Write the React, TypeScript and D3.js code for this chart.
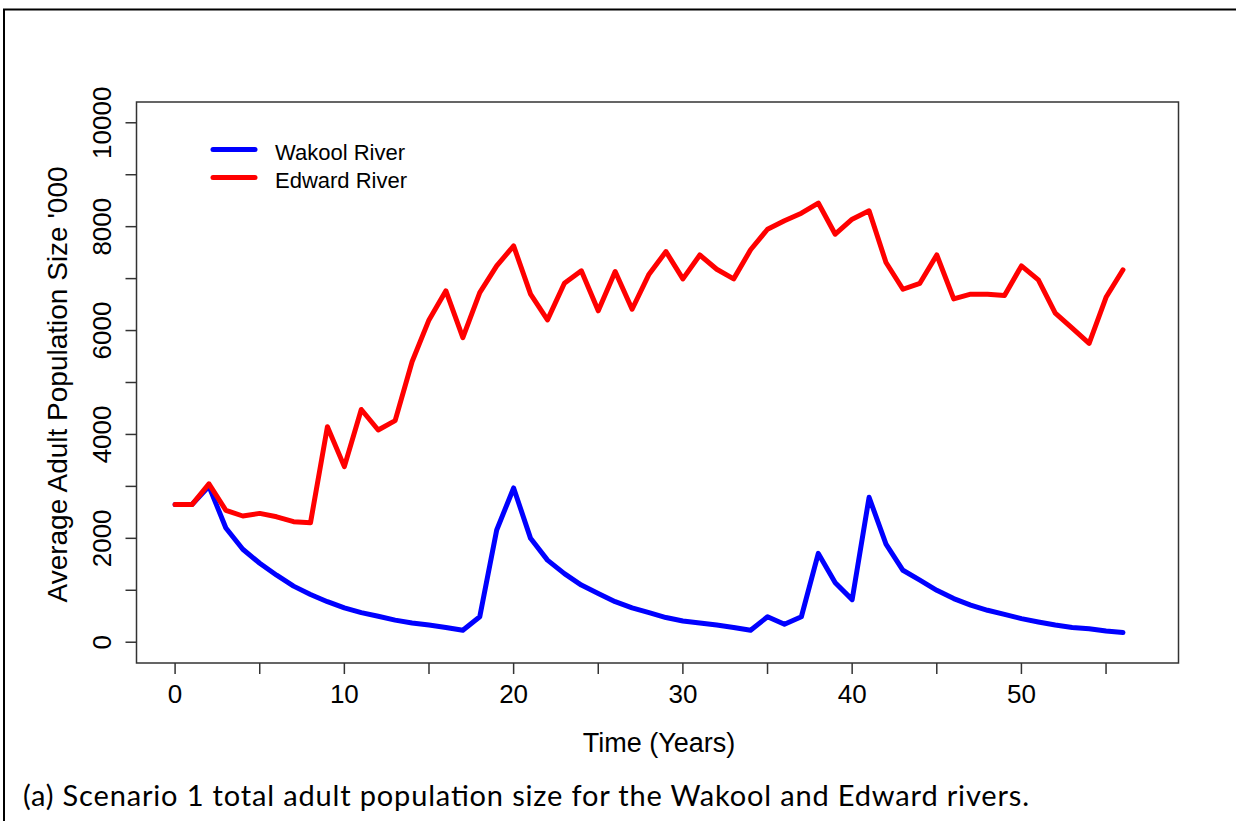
import { useEffect, useRef } from "react";
import * as d3 from "d3";

// years 0..56
const YEARS = d3.range(0, 57);

// Wakool River, average adult population ('000)
const WAKOOL = [
  2650, 2650, 3000, 2200, 1790, 1520, 1290, 1080, 920, 780,
  660, 570, 500, 425, 370, 330, 285, 230, 490, 2160,
  2970, 2000, 1580, 1320, 1100, 940, 780, 660, 570, 475,
  410, 370, 330, 285, 230, 490, 345, 490, 1710, 1145,
  820, 2790, 1890, 1385, 1195, 1000, 840, 715, 615, 535,
  455, 390, 330, 285, 260, 215, 185,
];

// Edward River, average adult population ('000)
const EDWARD = [
  2650, 2650, 3050, 2540, 2430, 2480, 2415, 2320, 2300, 4150,
  3380, 4480, 4085, 4265, 5400, 6205, 6765, 5865, 6730, 7245,
  7630, 6700, 6205, 6910, 7150, 6380, 7135, 6410, 7085, 7520,
  6995, 7455, 7180, 6995, 7555, 7950, 8115, 8260, 8455, 7855,
  8145, 8305, 7310, 6795, 6910, 7455, 6610, 6700, 6700, 6675,
  7245, 6975, 6335, 6045, 5755, 6640, 7170,
];

const X_TICKS = d3.range(0, 60, 5);
const X_LABELS = [0, 10, 20, 30, 40, 50];
const Y_TICKS = d3.range(0, 11000, 1000);
const Y_LABELS = [0, 2000, 4000, 6000, 8000, 10000];

const SERIES = [
  { name: "Wakool River", values: WAKOOL, color: "#0000ff" },
  { name: "Edward River", values: EDWARD, color: "#ff0000" },
];

const W = 1236;
const H = 821;
const FONT = "'Liberation Sans', Arial, sans-serif";

export default function App() {
  const svgRef = useRef<SVGSVGElement>(null);

  useEffect(() => {
    if (!svgRef.current) return;
    const svg = d3.select(svgRef.current);
    svg.selectAll("*").remove();

    // plot region (R style, 4% padding around xlim 0..57, ylim 0..10000)
    const left = 136.5, right = 1178.5, top = 102, bottom = 663;
    const x = d3.scaleLinear().domain([-2.28, 59.28]).range([left, right]);
    const y = d3.scaleLinear().domain([-400, 10400]).range([bottom, top]);

    // outer figure frame
    svg
      .append("rect")
      .attr("x", 4)
      .attr("y", 9.5)
      .attr("width", W + 10)
      .attr("height", H + 10)
      .attr("fill", "none")
      .attr("stroke", "#000")
      .attr("stroke-width", 2);

    // plot box
    svg
      .append("rect")
      .attr("x", left)
      .attr("y", top)
      .attr("width", right - left)
      .attr("height", bottom - top)
      .attr("fill", "none")
      .attr("stroke", "#333")
      .attr("stroke-width", 1.5);

    // x axis ticks
    svg
      .append("g")
      .selectAll("line")
      .data(X_TICKS)
      .join("line")
      .attr("x1", (d) => x(d))
      .attr("x2", (d) => x(d))
      .attr("y1", bottom)
      .attr("y2", bottom + 11)
      .attr("stroke", "#333")
      .attr("stroke-width", 1.5);

    svg
      .append("g")
      .selectAll("text")
      .data(X_LABELS)
      .join("text")
      .attr("x", (d) => x(d))
      .attr("y", 703)
      .attr("text-anchor", "middle")
      .attr("font-family", FONT)
      .attr("font-size", 26)
      .text((d) => d);

    // y axis ticks
    svg
      .append("g")
      .selectAll("line")
      .data(Y_TICKS)
      .join("line")
      .attr("x1", left - 11)
      .attr("x2", left)
      .attr("y1", (d) => y(d))
      .attr("y2", (d) => y(d))
      .attr("stroke", "#333")
      .attr("stroke-width", 1.5);

    svg
      .append("g")
      .selectAll("text")
      .data(Y_LABELS)
      .join("text")
      .attr("transform", (d) => `translate(110.5,${y(d)}) rotate(-90)`)
      .attr("text-anchor", "middle")
      .attr("font-family", FONT)
      .attr("font-size", 26)
      .text((d) => d);

    // axis titles
    svg
      .append("text")
      .attr("x", 659)
      .attr("y", 752)
      .attr("text-anchor", "middle")
      .attr("font-family", FONT)
      .attr("font-size", 27)
      .text("Time (Years)");

    svg
      .append("text")
      .attr("transform", `translate(67,${(top + bottom) / 2 + 2}) rotate(-90)`)
      .attr("text-anchor", "middle")
      .attr("font-family", FONT)
      .attr("font-size", 28)
      .text("Average Adult Population Size '000");

    // lines
    const line = d3
      .line<number>()
      .x((_, i) => x(YEARS[i]))
      .y((d) => y(d));

    svg
      .append("g")
      .selectAll("path")
      .data(SERIES)
      .join("path")
      .attr("d", (s) => line(s.values))
      .attr("fill", "none")
      .attr("stroke", (s) => s.color)
      .attr("stroke-width", 5)
      .attr("stroke-linejoin", "round")
      .attr("stroke-linecap", "round");

    // legend
    const lg = svg
      .append("g")
      .selectAll("g")
      .data(SERIES)
      .join("g")
      .attr("transform", (_, i) => `translate(0,${149.5 + i * 28})`);
    lg.append("line")
      .attr("x1", 213)
      .attr("x2", 255)
      .attr("stroke", (s) => s.color)
      .attr("stroke-width", 5)
      .attr("stroke-linecap", "round");
    lg.append("text")
      .attr("x", 275)
      .attr("y", 10)
      .attr("font-family", FONT)
      .attr("font-size", 22)
      .text((s) => s.name);

    // caption
    svg
      .append("text")
      .attr("x", 23)
      .attr("y", 806)
      .attr("font-family", "Lato, 'Open Sans', sans-serif")
      .attr("font-size", 29)
      .attr("textLength", 1006)
      .text("(a) Scenario 1 total adult population size for the Wakool and Edward rivers.");
  }, []);

  return (
    <svg
      ref={svgRef}
      width={W}
      height={H}
      style={{ position: "absolute", left: 0, top: 0, background: "#fff" }}
    />
  );
}
